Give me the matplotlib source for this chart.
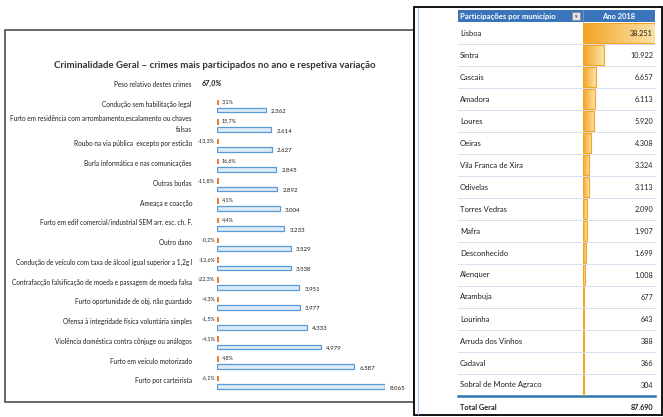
import matplotlib
matplotlib.use('Agg')
import matplotlib.pyplot as plt
import matplotlib.transforms as mtransforms
from matplotlib.patches import Rectangle
from matplotlib.colors import LinearSegmentedColormap
import numpy as np

plt.rcParams['font.family'] = ['Lato', 'DejaVu Sans']

# left chart data
crimes = ['Condução sem habilitação legal',
          'Furto em residência com arrombamento,escalamento ou chaves\nfalsas',
          'Roubo na via pública  excepto por esticão',
          'Burla informática e nas comunicações',
          'Outras burlas',
          'Ameaça e coacção',
          'Furto em edif comercial/industrial SEM arr. esc. ch. F.',
          'Outro dano',
          'Condução de veículo com taxa de álcool igual superior a 1,2g l',
          'Contrafacção falsificação de moeda e passagem de moeda falsa',
          'Furto oportunidade de obj. não guardado',
          'Ofensa à integridade física voluntária simples',
          'Violência doméstica contra cônjuge ou análogos',
          'Furto em veículo motorizado',
          'Furto por carteirista']
valores = [2362, 2614, 2627, 2845, 2892, 3004, 3233, 3529, 3538, 3951, 3977, 4333, 4979, 6587, 8065]
variacao = [3.1, 15.7, -13.3, 16.6, -11.8, 4.1, 4.4, -0.2, -12.6, -22.3, -4.3, -1.5, -4.1, 4.8, -6.1]
peso = 67.0

# right table data
municipios = ['Lisboa', 'Sintra', 'Cascais', 'Amadora', 'Loures', 'Oeiras',
              'Vila Franca de Xira', 'Odivelas', 'Torres Vedras', 'Mafra',
              'Desconhecido', 'Alenquer', 'Azambuja', 'Lourinha',
              'Arruda dos Vinhos', 'Cadaval', 'Sobral de Monte Agraco']
participacoes = [38251, 10922, 6657, 6113, 5920, 4308, 3324, 3113, 2090, 1907,
                 1699, 1008, 677, 643, 388, 366, 304]


def pt(n):
    return f'{n:,}'.replace(',', '.')


W, H = 663, 417
fig = plt.figure(figsize=(W / 100, H / 100), dpi=100)
bg = fig.add_axes([0, 0, 1, 1])
bg.set_xlim(0, W)
bg.set_ylim(H, 0)
bg.axis('off')


def px_axes(x0, y0, x1, y1):
    a = fig.add_axes([x0 / W, 1 - y1 / H, (x1 - x0) / W, (y1 - y0) / H])
    a.axis('off')
    return a


# frames
bg.add_patch(Rectangle((5, 30), 409, 372, fc='white', ec='#404040', lw=1.1, zorder=1))
bg.add_patch(Rectangle((414, 7), 248, 408, fc='white', ec='black', lw=1.3, zorder=2))
bg.plot([417.5, 417.5], [8, 414], color='#A9C4E8', lw=0.8, zorder=3)

# ---- left chart ----
tc = '#1f1f1f'
bg.text(215, 65, 'Criminalidade Geral – crimes mais participados no ano e respetiva variação',
        ha='center', va='center', fontsize=6.9, fontweight='bold', color='#333333', zorder=5)
bg.text(192, 84, 'Peso relativo destes crimes', ha='right', va='center', fontsize=4.7,
        fontweight='normal', color=tc, zorder=5)
bg.text(202, 83.5, f'{peso:.1f}%'.replace('.', ','), ha='left', va='center', fontsize=5.4,
        fontweight='bold', fontstyle='italic', color=tc, zorder=5)

n = len(crimes)
ypos = np.arange(n)
step = 19.75
ax1 = px_axes(217, 110 - step / 2, 385, 110 + (n - 0.5) * step)
ax1.barh(ypos, valores, height=0.24, color='#DDEBF7', edgecolor='#5B9BD5', lw=0.9)
ax1.barh(ypos - 0.4, [110] * n, height=0.27, color='#ED7D31', lw=0)
ax1.set_xlim(0, 8065)
ax1.set_ylim(n - 0.5, -0.5)

tr1 = mtransforms.blended_transform_factory(bg.transData, ax1.transData)
for i in range(n):
    ax1.text(192, i - 0.28, crimes[i], transform=tr1, ha='right', va='center',
             fontsize=4.7, color=tc, linespacing=1.6, clip_on=False)
    s = f'{variacao[i]:.1f}%'.replace('.', ',')
    if variacao[i] >= 0:
        ax1.text(222, i - 0.44, s, transform=tr1, ha='left', va='center', fontsize=3.9, color=tc)
    else:
        ax1.text(215, i - 0.44, s, transform=tr1, ha='right', va='center', fontsize=3.9, color=tc)
    ax1.annotate(pt(valores[i]), xy=(valores[i], i), xytext=(5, -1.5), textcoords='offset pixels',
                 ha='left', va='center', fontsize=4.4, color=tc, annotation_clip=False)

# ---- right table ----
m = len(municipios)
rows = np.arange(m)
ax2 = px_axes(583, 22, 655, 22 + m * 22)
bars = ax2.barh(rows, participacoes, height=0.9, color='none', edgecolor='#F4A623', lw=0.8, zorder=3)
cmap = LinearSegmentedColormap.from_list('db', ['#F4A424', '#FCE2A8'])
grad = np.linspace(0, 1, 64).reshape(1, -1)
for b in bars:
    x0, y0 = b.get_x(), b.get_y()
    ax2.imshow(grad, extent=[x0, x0 + b.get_width(), y0 + b.get_height(), y0], aspect='auto',
               cmap=cmap, clip_path=b, zorder=2)
ax2.set_xlim(0, 38251)
ax2.set_ylim(m - 0.5, -0.5)

tr2 = mtransforms.blended_transform_factory(bg.transData, ax2.transData)
for k in range(m - 1):
    ax2.plot([458, 655], [k + 0.5, k + 0.5], transform=tr2, color='#D0DCEC', lw=0.6, clip_on=False)
ax2.plot([458, 655], [m - 0.5, m - 0.5], transform=tr2, color='#2E75B6', lw=1.8, clip_on=False)

for i in range(m):
    ax2.text(460, i, municipios[i], transform=tr2, ha='left', va='center', fontsize=5.5, color=tc)
    ax2.text(653, i, pt(participacoes[i]), transform=tr2, ha='right', va='center', fontsize=5.2,
             color=tc, zorder=5)
ax2.text(460, m + 0.03, 'Total Geral', transform=tr2, ha='left', va='center', fontsize=5.3,
         fontweight='bold', color=tc)
ax2.text(653, m + 0.03, pt(sum(participacoes)), transform=tr2, ha='right', va='center',
         fontsize=5.2, fontweight='bold', color=tc)

# header
bg.add_patch(Rectangle((458, 10), 197, 12, fc='#3A74BB', ec='none', zorder=4))
bg.plot([583, 583], [10, 22], color='#6F9AD0', lw=0.6, zorder=5)
bg.text(460, 16, 'Participações por município', ha='left', va='center', fontsize=5.6,
        fontweight='bold', color='white', zorder=6)
bg.text(619, 16, 'Ano 2018', ha='center', va='center', fontsize=5.4,
        fontweight='bold', color='white', zorder=6)
bg.add_patch(Rectangle((572, 11.5), 8, 8.5, fc='#E3E3E3', ec='#8C8C8C', lw=0.5, zorder=6))
bg.text(576, 16.5, '▾', ha='center', va='center', fontsize=3.5, color='#404040',
        family='DejaVu Sans', zorder=7)

fig.savefig('out.png', dpi=100)
